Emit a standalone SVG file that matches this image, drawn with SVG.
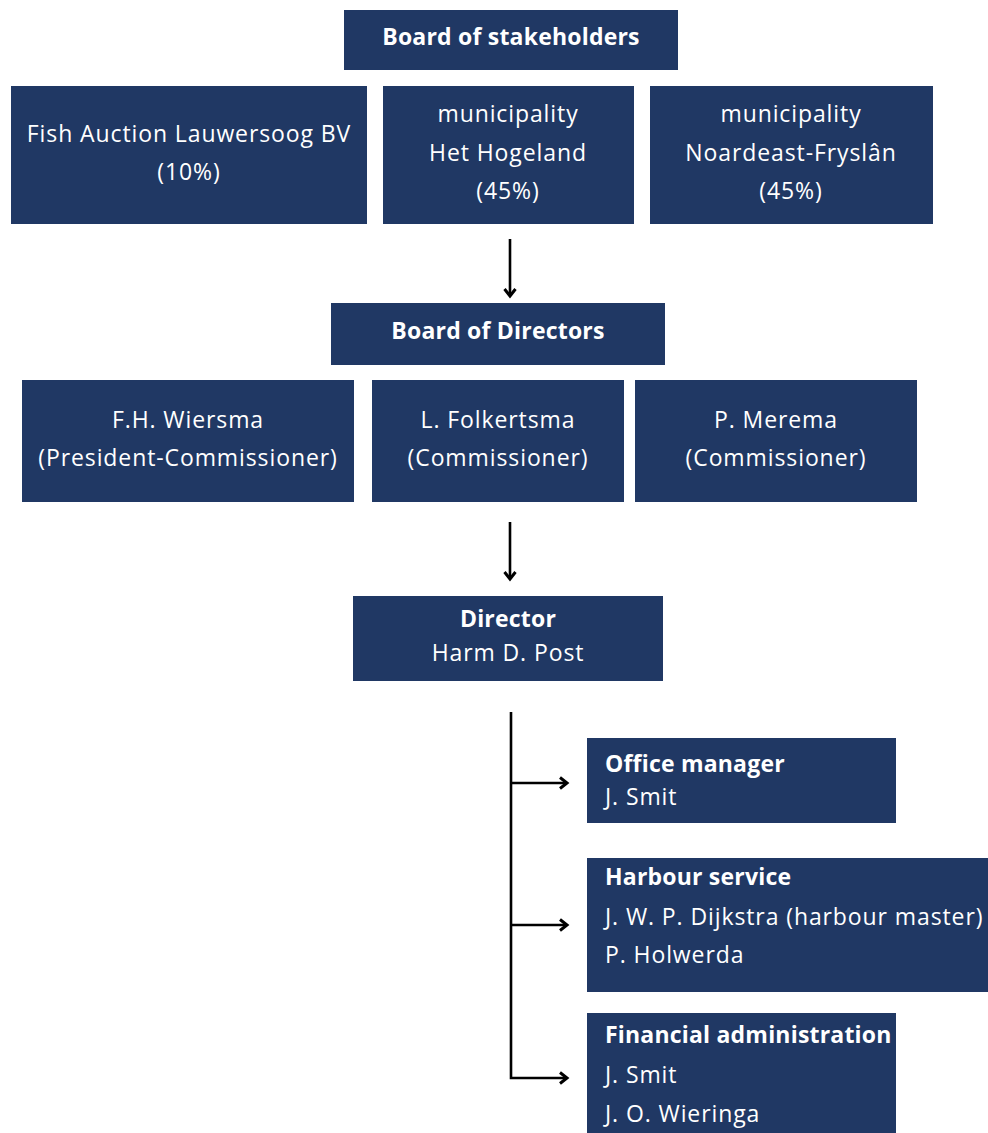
<svg xmlns="http://www.w3.org/2000/svg" width="988" height="1133" viewBox="0 0 988 1133">
<defs>
<marker id="arr" viewBox="0 0 14 14" refX="11" refY="7" markerWidth="14" markerHeight="14" markerUnits="userSpaceOnUse" orient="auto">
<polyline points="4,1.5 11,7 4,12.5" fill="none" stroke="#000" stroke-width="3"/>
</marker>
<style>
.box{fill:#203864;}
.t{font-family:"Open Sans","Noto Sans","Liberation Sans",sans-serif;font-size:23px;fill:#fff;letter-spacing:0.9px;}
.c{text-anchor:middle;}
.b{font-weight:bold;letter-spacing:0.2px;}
.con{stroke:#000;stroke-width:2.6;fill:none;}
</style>
</defs>
<rect width="988" height="1133" fill="#fff"/>
<g id="board-stakeholders"><rect class="box" x="344" y="10" width="334" height="60"/><text class="t c b" x="511" y="45">Board of stakeholders</text></g>
<g id="fish-auction"><rect class="box" x="11" y="86" width="356" height="138"/><text class="t c" x="189" y="142">Fish Auction Lauwersoog BV</text><text class="t c" x="189" y="180">(10%)</text></g>
<g id="het-hogeland"><rect class="box" x="383" y="86" width="251" height="138"/><text class="t c" x="508" y="122">municipality</text><text class="t c" x="508" y="161">Het Hogeland</text><text class="t c" x="508" y="199">(45%)</text></g>
<g id="noardeast"><rect class="box" x="650" y="86" width="283" height="138"/><text class="t c" x="791" y="122">municipality</text><text class="t c" x="791" y="161">Noardeast-Fryslân</text><text class="t c" x="791" y="199">(45%)</text></g>
<g id="board-directors"><rect class="box" x="331" y="303" width="334" height="62"/><text class="t c b" x="498" y="339">Board of Directors</text></g>
<g id="wiersma"><rect class="box" x="22" y="380" width="332" height="122"/><text class="t c" x="188" y="428">F.H. Wiersma</text><text class="t c" x="188" y="466">(President-Commissioner)</text></g>
<g id="folkertsma"><rect class="box" x="372" y="380" width="252" height="122"/><text class="t c" x="498" y="428">L. Folkertsma</text><text class="t c" x="498" y="466">(Commissioner)</text></g>
<g id="merema"><rect class="box" x="635" y="380" width="282" height="122"/><text class="t c" x="776" y="428">P. Merema</text><text class="t c" x="776" y="466">(Commissioner)</text></g>
<g id="director"><rect class="box" x="353" y="596" width="310" height="85"/><text class="t c b" x="508" y="627">Director</text><text class="t c" x="508" y="661">Harm D. Post</text></g>
<g id="office-manager"><rect class="box" x="587" y="738" width="309" height="85"/><text class="t b" x="605" y="772">Office manager</text><text class="t" x="605" y="805">J. Smit</text></g>
<g id="harbour-service"><rect class="box" x="587" y="858" width="401" height="134"/><text class="t b" x="605" y="885">Harbour service</text><text class="t" x="605" y="925">J. W. P. Dijkstra (harbour master)</text><text class="t" x="605" y="963">P. Holwerda</text></g>
<g id="financial"><rect class="box" x="587" y="1013" width="309" height="125"/><text class="t b" x="605" y="1043">Financial administration</text><text class="t" x="605" y="1083">J. Smit</text><text class="t" x="605" y="1122">J. O. Wieringa</text></g>
<g id="connectors">
<line class="con" x1="510" y1="239" x2="510" y2="296" marker-end="url(#arr)"/>
<line class="con" x1="510" y1="522" x2="510" y2="579" marker-end="url(#arr)"/>
<polyline class="con" points="511,712 511,1078 567,1078" marker-end="url(#arr)"/>
<line class="con" x1="511" y1="783" x2="567" y2="783" marker-end="url(#arr)"/>
<line class="con" x1="511" y1="925" x2="567" y2="925" marker-end="url(#arr)"/>
</g>
</svg>
